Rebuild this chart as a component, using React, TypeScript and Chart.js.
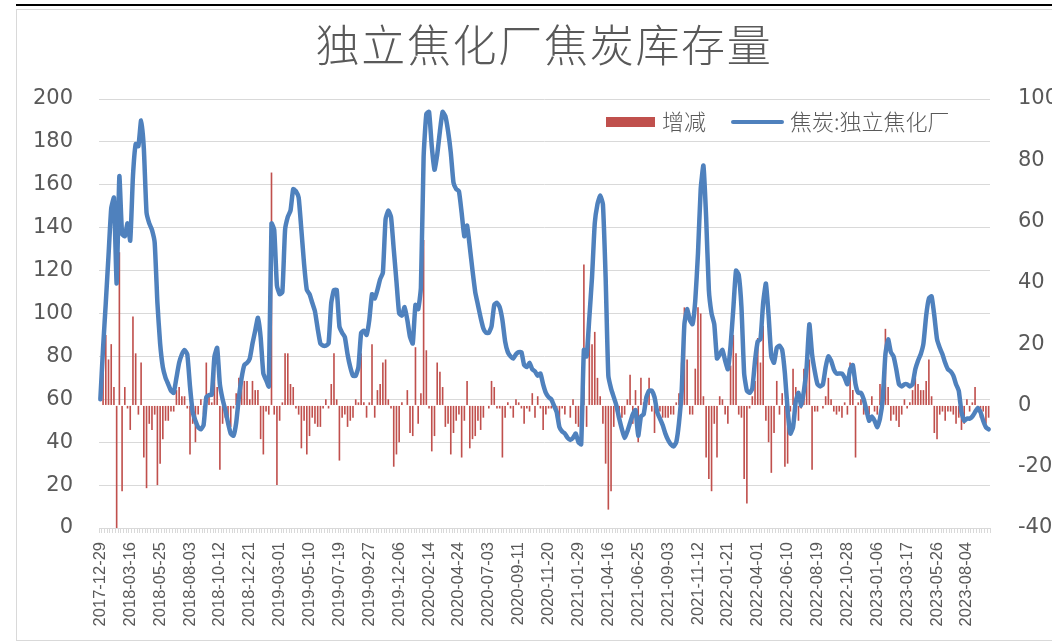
import React, { useEffect, useRef } from "react";
import { Chart, registerables } from "chart.js";

Chart.register(...registerables);

const tickLabels: string[] = [
  "2017-12-29", "2018-03-16", "2018-05-25", "2018-08-03", "2018-10-12", "2018-12-21",
  "2019-03-01", "2019-05-10", "2019-07-19", "2019-09-27", "2019-12-06", "2020-02-14",
  "2020-04-24", "2020-07-03", "2020-09-11", "2020-11-20", "2021-01-29", "2021-04-16",
  "2021-06-25", "2021-09-03", "2021-11-12", "2022-01-21", "2022-04-01", "2022-06-10",
  "2022-08-19", "2022-10-28", "2023-01-06", "2023-03-17", "2023-05-26", "2023-08-04",
];

// 焦炭:独立焦化厂 (left axis)
const stockValues: number[] = [
  60, 84, 105, 127, 149, 154, 114, 164, 137, 136, 142, 134, 164, 179, 178, 190, 177, 147, 142, 139,
  133, 105, 86, 75, 70, 67, 64, 63, 70, 77, 81, 83, 81, 66, 54, 50, 47, 46, 48, 61,
  62, 62, 80, 84, 67, 60, 55, 49, 44, 43, 49, 61, 70, 76, 77, 79, 86, 92, 98, 89,
  72, 69, 66, 142, 139, 113, 109, 110, 139, 145, 148, 158, 157, 154, 139, 123, 111, 109, 105, 101,
  93, 86, 85, 85, 86, 105, 111, 111, 94, 91, 89, 81, 75, 71, 71, 75, 91, 92, 90, 97,
  109, 107, 111, 116, 119, 144, 148, 145, 130, 115, 100, 99, 103, 97, 89, 86, 104, 102, 112, 173,
  193, 194, 178, 167, 174, 185, 194, 192, 185, 175, 161, 158, 157, 147, 136, 141, 131, 120, 110, 104,
  98, 93, 91, 91, 94, 104, 105, 103, 97, 87, 82, 80, 79, 81, 82, 82, 76, 75, 77, 74,
  73, 71, 72, 67, 63, 61, 60, 57, 54, 47, 45, 44, 42, 41, 42, 44, 40, 39, 83, 80,
  98, 117, 142, 151, 155, 151, 117, 71, 65, 61, 57, 51, 46, 42, 45, 49, 53, 55, 43, 52,
  53, 61, 64, 64, 61, 54, 51, 48, 44, 41, 39, 38, 40, 49, 64, 95, 102, 97, 95, 106,
  128, 158, 169, 145, 111, 100, 95, 79, 81, 83, 78, 74, 85, 102, 120, 118, 103, 72, 64, 63,
  65, 78, 87, 88, 105, 114, 99, 80, 77, 84, 85, 83, 72, 55, 44, 47, 59, 63, 57, 64,
  75, 95, 81, 73, 67, 66, 67, 75, 80, 78, 74, 72, 72, 72, 70, 67, 74, 76, 67, 63,
  63, 60, 55, 50, 52, 50, 47, 51, 60, 81, 88, 82, 80, 74, 67, 66, 67, 67, 66, 67,
  74, 78, 81, 86, 99, 107, 108, 99, 88, 84, 81, 77, 74, 73, 71, 67, 64, 54, 50, 51,
  51, 52, 54, 56, 54, 50, 47, 46,
];

// 增减 (right axis)
const changeValues: number[] = [
  0, 23, 23, 15, 20, 6, -40, 50, -28, 6, -1, -8, 29, 17, -3, 14, -17, -27, -6, -8,
  -3, -26, -19, -11, -5, -5, -2, -2, 5, 6, 3, 3, -1, -16, -6, -12, -3, 2, -3, 14,
  4, 1, 12, 6, -21, -6, -4, -7, -7, -1, 4, 9, 7, 8, 8, 2, 8, 5, 5, -11,
  -16, -2, -3, 76, -3, -26, -5, 1, 17, 17, 7, 6, -1, -3, -14, -5, -16, -10, -4, -6,
  -7, -7, -1, 2, -1, 7, 17, 2, -18, -4, -3, -7, -5, -4, 2, 1, 17, 1, -4, 1,
  20, -4, 5, 7, 14, 15, 2, -1, -20, -16, -12, 1, 0, 5, -9, -10, 19, -6, 4, 54,
  18, -1, -15, -10, 14, 11, 6, -7, -6, -16, -9, -5, -3, -17, -5, 8, -14, -11, -10, -5,
  -8, -4, 0, -1, 8, 6, -1, -1, -17, -4, 1, -1, -4, 2, 1, -1, -6, -1, -2, 4,
  -4, 3, -1, -8, -3, -1, -1, -1, -4, -6, -1, -3, 0, -4, 2, -6, -7, -1, 46, -7,
  23, 20, 24, 9, 3, -6, -19, -34, -28, -7, -2, -4, -4, -3, 2, 10, -6, 5, -12, 9,
  1, 3, 9, -2, -9, -2, -2, -4, -4, -4, -3, -3, 1, 4, 14, 32, 15, -3, -3, 12,
  32, 30, 3, -17, -24, -28, -6, -17, 3, 2, -3, -6, 13, 23, 17, -3, -4, -24, -32, -1,
  3, 8, 22, 14, 26, -5, -12, -22, -9, 8, -3, 4, -20, -19, -2, 12, 6, -5, -1, 12,
  10, 15, -21, -2, -2, 0, -1, 3, 9, 2, -2, -3, -2, -4, 1, -3, 14, 5, -17, 1,
  2, -3, -3, -3, 3, -2, -3, 7, 7, 25, 6, -5, -3, -5, -7, -3, 2, -1, 1, 5,
  9, 7, 5, 5, 8, 15, 3, -9, -11, -3, -2, -5, -2, -2, -3, -6, -4, -8, -6, 2,
  -2, 1, 6, -2, -4, -2, -6, -4,
];

const TEXT = "#595959";
const GRID = "#d9d9d9";
const CJK = "'Noto Sans CJK SC', 'Noto Sans', sans-serif";

function buildCategories(): string[] {
  const out: string[] = [];
  tickLabels.forEach((lab, k) => {
    out.push(lab);
    const extra = k < tickLabels.length - 1 ? 10 : stockValues.length - 1 - k * 11;
    const base = Date.parse(lab + "T00:00:00Z");
    for (let j = 1; j <= extra; j++) {
      out.push(new Date(base + j * 7 * 86400000).toISOString().slice(0, 10));
    }
  });
  return out;
}

export default function App() {
  const ref = useRef<HTMLCanvasElement>(null);

  useEffect(() => {
    const categories = buildCategories();
    const axisFont = { family: "'DejaVu Sans', Verdana, sans-serif", size: 21 };
    const chart = new Chart(ref.current as HTMLCanvasElement, {
      type: "bar",
      data: {
        labels: categories,
        datasets: [
          {
            type: "line",
            label: "焦炭:独立焦化厂",
            data: stockValues,
            yAxisID: "y",
            borderColor: "#4F81BD",
            backgroundColor: "#4F81BD",
            borderWidth: 4.5,
            pointRadius: 0,
            tension: 0.15,
            borderJoinStyle: "round",
            borderCapStyle: "round",
            order: 1,
          } as any,
          {
            type: "bar",
            label: "增减",
            data: changeValues,
            yAxisID: "y1",
            backgroundColor: "#C0504D",
            barPercentage: 0.6,
            categoryPercentage: 1,
            order: 2,
          } as any,
        ],
      },
      options: {
        responsive: false,
        animation: false,
        devicePixelRatio: 1,
        events: [],
        layout: { padding: { top: 89, left: 0, right: 0, bottom: 0 } },
        plugins: {
          legend: { display: false },
          title: { display: false },
          tooltip: { enabled: false },
        },
        scales: {
          x: {
            offset: true,
            grid: {
              display: true,
              drawOnChartArea: false,
              drawTicks: true,
              tickLength: 5,
              color: GRID,
              offset: true,
            },
            border: { display: true, color: GRID },
            ticks: {
              autoSkip: false,
              maxRotation: 90,
              minRotation: 90,
              padding: 9,
              color: TEXT,
              font: { family: "'Liberation Sans', Arial, sans-serif", size: 16.5 },
              callback: (_v: any, i: number) => (i % 11 === 0 ? categories[i] : ""),
            },
            afterFit: (s: any) => {
              s.height = 112;
            },
          },
          y: {
            position: "left",
            min: 0,
            max: 200,
            ticks: { stepSize: 20, padding: 26, color: TEXT, font: axisFont },
            grid: { color: GRID, drawTicks: false, lineWidth: 1 },
            border: { display: false },
            afterFit: (s: any) => {
              s.width = 82;
            },
          },
          y1: {
            position: "right",
            min: -40,
            max: 100,
            ticks: { stepSize: 20, padding: 28, color: TEXT, font: axisFont },
            grid: { drawOnChartArea: false, drawTicks: false },
            border: { display: false },
            afterFit: (s: any) => {
              s.width = 77;
            },
          },
        },
      } as any,
    });
    return () => chart.destroy();
  }, []);

  return (
    <div
      style={{
        position: "fixed",
        left: 0,
        top: 0,
        width: 1052,
        height: 643,
        overflow: "hidden",
        background: "#ffffff",
      }}
    >
      <div style={{ position: "absolute", left: 16, top: 4, right: 0, height: 2, background: "#000" }} />
      <div
        style={{
          position: "absolute",
          left: 16,
          top: 9,
          width: 1100,
          height: 632,
          border: `1px solid ${GRID}`,
          boxSizing: "border-box",
        }}
      />
      <canvas
        ref={ref}
        width={1050}
        height={630}
        style={{ position: "absolute", left: 17, top: 10, width: 1050, height: 630, display: "block" }}
      />
      <div
        style={{
          position: "absolute",
          left: 544,
          top: 21,
          transform: "translateX(-50%)",
          whiteSpace: "nowrap",
          fontFamily: CJK,
          fontWeight: 300,
          fontSize: 44,
          lineHeight: "44px",
          letterSpacing: 1.7,
          color: TEXT,
        }}
      >
        独立焦化厂焦炭库存量
      </div>
      <div style={{ position: "absolute", left: 606, top: 117, width: 49, height: 10, background: "#C0504D" }} />
      <div
        style={{
          position: "absolute",
          left: 662,
          top: 109,
          whiteSpace: "nowrap",
          fontFamily: CJK,
          fontWeight: 300,
          fontSize: 22,
          lineHeight: "22px",
          color: TEXT,
        }}
      >
        增减
      </div>
      <div
        style={{
          position: "absolute",
          left: 731,
          top: 120,
          width: 53,
          height: 4,
          borderRadius: 2,
          background: "#4F81BD",
        }}
      />
      <div
        style={{
          position: "absolute",
          left: 790,
          top: 109,
          whiteSpace: "nowrap",
          fontFamily: CJK,
          fontWeight: 300,
          fontSize: 22,
          lineHeight: "22px",
          color: TEXT,
        }}
      >
        焦炭:独立焦化厂
      </div>
    </div>
  );
}
